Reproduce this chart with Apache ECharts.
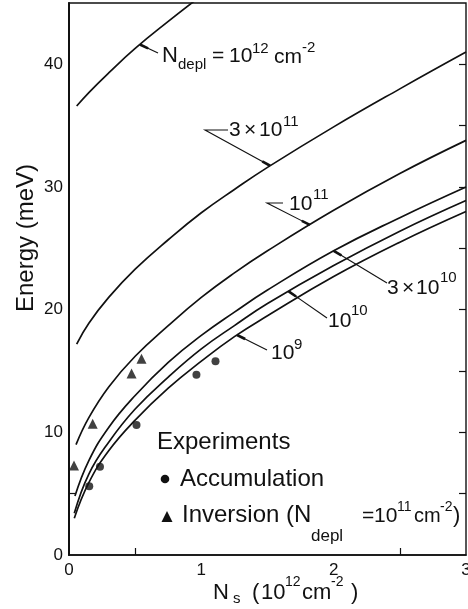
<!DOCTYPE html>
<html>
<head>
<meta charset="utf-8">
<script src="https://cdn.jsdelivr.net/npm/echarts@6/dist/echarts.min.js"></script>
<style>
  html, body { margin: 0; padding: 0; background: #fff; }
  #chart { width: 468px; height: 609px; }
</style>
</head>
<body>
<div id="chart"></div>
<script>
// Lowest subband energy (meV) versus sheet density N_s (10^12 cm^-2),
// one curve per depletion charge N_depl.
const curve1e12 = [[0.058, 36.6], [0.15, 37.7], [0.3, 39.3], [0.5, 41.3], [0.75, 43.5], [1.0, 45.6]];
const curve3e11 = [[0.058, 17.2], [0.15, 18.9], [0.3, 21.0], [0.5, 23.3], [0.75, 25.7], [1.0, 27.9], [1.25, 29.8], [1.5, 31.6], [2.0, 34.9], [2.5, 38.0], [3.0, 41.0]];
const curve1e11 = [[0.053, 9.0], [0.15, 11.2], [0.3, 13.7], [0.5, 16.2], [0.75, 18.7], [1.0, 21.0], [1.25, 23.0], [1.5, 24.8], [2.0, 28.1], [2.5, 31.1], [3.0, 33.8]];
const curve3e10 = [[0.045, 4.8], [0.15, 7.7], [0.3, 10.4], [0.5, 13.0], [0.75, 15.7], [1.0, 17.9], [1.25, 19.8], [1.5, 21.6], [2.0, 24.8], [2.5, 27.5], [3.0, 30.0]];
const curve1e10 = [[0.04, 3.4], [0.15, 6.6], [0.3, 9.2], [0.5, 11.9], [0.75, 14.5], [1.0, 16.8], [1.25, 18.7], [1.5, 20.5], [2.0, 23.6], [2.5, 26.4], [3.0, 28.9]];
const curve1e9  = [[0.04, 3.0], [0.15, 5.9], [0.3, 8.5], [0.5, 11.0], [0.75, 13.6], [1.0, 15.8], [1.25, 17.8], [1.5, 19.5], [2.0, 22.7], [2.5, 25.5], [3.0, 28.0]];

// Measured points
const accumulation = [[0.153, 5.6], [0.234, 7.2], [0.51, 10.6], [0.963, 14.7], [1.107, 15.8]];
const inversion = [[0.038, 7.3], [0.179, 10.7], [0.473, 14.8], [0.548, 16.0]];

// Axis ticks and labels
const xLabelValues = [0, 1, 2, 3];
const xTickValues = [0.5, 2.5];
const yLabelValues = [0, 10, 20, 30, 40];
const yRightTickValues = [5, 10, 15, 20, 25, 30, 35, 40];

const FONT = '"Liberation Sans", Arial, sans-serif';
const INK = '#111';

const chart = echarts.init(document.getElementById('chart'), null, { renderer: 'canvas', width: 468, height: 609 });

const curves = [curve1e12, curve3e11, curve1e11, curve3e10, curve1e10, curve1e9];

const series = curves.map(function (d) {
  return {
    type: 'line', data: d, smooth: 0.45, showSymbol: false, clip: true,
    lineStyle: { color: INK, width: 1.7 }, silent: true
  };
});
series.push({ type: 'scatter', data: accumulation, symbol: 'circle', symbolSize: 8, itemStyle: { color: INK } });
series.push({ type: 'scatter', data: inversion, symbol: 'triangle', symbolSize: 10, itemStyle: { color: INK } });

chart.setOption({
  animation: false,
  backgroundColor: '#fff',
  grid: {
    left: 69, right: 2, top: 3, bottom: 54, outerBoundsMode: 'none', containLabel: false,
    show: true, borderColor: INK, borderWidth: 1.4, backgroundColor: 'transparent'
  },
  xAxis: {
    type: 'value', min: 0, max: 3,
    axisLine: { show: true, lineStyle: { color: INK, width: 1.6 } },
    axisTick: { show: true, inside: true, length: 7, customValues: xTickValues, lineStyle: { color: INK, width: 1.2 } },
    axisLabel: { customValues: xLabelValues, color: INK, fontFamily: FONT, fontSize: 17, margin: 7, showMaxLabel: true },
    splitLine: { show: false }
  },
  yAxis: [{
    type: 'value', min: 0, max: 45, position: 'left',
    axisLine: { show: true, lineStyle: { color: INK, width: 2 } },
    axisTick: { show: true, inside: true, length: 6, customValues: [5], lineStyle: { color: INK, width: 1.2 } },
    axisLabel: { customValues: yLabelValues, color: INK, fontFamily: FONT, fontSize: 17, margin: 6 },
    splitLine: { show: false }
  }, {
    type: 'value', min: 0, max: 45, position: 'right',
    axisLine: { show: false },
    axisTick: { show: true, inside: true, length: 7, customValues: yRightTickValues, lineStyle: { color: INK, width: 1.2 } },
    axisLabel: { show: false },
    splitLine: { show: false }
  }],
  series: series
});

// ---- annotations ----
function valueAt(curve, n) {
  for (let i = 1; i < curve.length; i++) {
    if (n <= curve[i][0]) {
      const a = curve[i - 1], b = curve[i];
      return a[1] + (b[1] - a[1]) * (n - a[0]) / (b[0] - a[0]);
    }
  }
  return curve[curve.length - 1][1];
}

const elements = [];

// place a text run by its left edge and baseline
function text(str, x, baseline, size) {
  elements.push({
    type: 'text', silent: true,
    style: {
      text: str, x: x, y: baseline - 0.32 * size,
      font: size + 'px ' + FONT, fill: INK,
      align: 'left', verticalAlign: 'middle', textAlign: 'left', textVerticalAlign: 'middle'
    }
  });
}

// pointer lines from a curve to its label
const pointers = [
  { curve: curve1e12, n: 0.536, via: [[158, 53]] },
  { curve: curve3e11, n: 1.52, via: [[205, 130], [228, 130]] },
  { curve: curve1e11, n: 1.82, via: [[267, 203], [283, 203]] },
  { curve: curve3e10, n: 2.0, via: [[387, 283]] },
  { curve: curve1e10, n: 1.66, via: [[327, 318]] },
  { curve: curve1e9, n: 1.27, via: [[267, 350]] }
];
pointers.forEach(function (p) {
  const a = chart.convertToPixel({ gridIndex: 0 }, [p.n, valueAt(p.curve, p.n)]);
  const pts = [a].concat(p.via);
  elements.push({ type: 'polyline', shape: { points: pts }, style: { stroke: INK, lineWidth: 1.1, fill: null }, silent: true });
  const dx = p.via[0][0] - a[0], dy = p.via[0][1] - a[1];
  const len = Math.sqrt(dx * dx + dy * dy);
  const k = 9 / len;
  elements.push({ type: 'line', shape: { x1: a[0], y1: a[1], x2: a[0] + dx * k, y2: a[1] + dy * k }, style: { stroke: INK, lineWidth: 2.6 }, silent: true });
});

// curve labels
text('N', 162, 63, 22);
text('depl', 178, 70, 15);
text('=', 212, 63, 21);
text('10', 229, 63, 21);
text('12', 252, 54, 15);
text('cm', 274, 64, 21);
text('-2', 302, 53, 15);

text('3', 229, 137, 21);
text('\u00d7', 244, 137, 21);
text('10', 259, 137, 21);
text('11', 283, 127, 15);

text('10', 289, 211, 21);
text('11', 313, 200, 15);

text('3', 387, 295, 21);
text('\u00d7', 402, 295, 21);
text('10', 416, 295, 21);
text('10', 440, 283, 15);

text('10', 328, 328, 21);
text('10', 351, 316, 15);

text('10', 271, 360, 21);
text('9', 294, 350, 15);

// legend
text('Experiments', 157, 450, 24);
elements.push({ type: 'circle', shape: { cx: 165, cy: 479, r: 4.3 }, style: { fill: INK }, silent: true });
text('Accumulation', 180, 487, 24);
elements.push({ type: 'polygon', shape: { points: [[167, 511], [161.5, 522], [172.5, 522]] }, style: { fill: INK }, silent: true });
text('Inversion (N', 182, 523, 24);
text('depl', 311, 542, 17);
text('=', 362, 523, 21);
text('10', 374, 523, 21);
text('11', 397, 512, 14);
text('cm', 414, 523, 20);
text('-2', 440, 512, 14);
text(')', 453, 523, 22);

// axis titles
text('N', 213, 600, 22);
text('s', 233, 604, 15);
text('(', 252, 600, 22);
text('10', 261, 600, 22);
text('12', 285, 587, 14);
text('cm', 302, 600, 22);
text('-2', 331, 587, 14);
text(')', 351, 600, 22);

elements.push({
  type: 'text', x: 26, y: 238, rotation: Math.PI / 2, silent: true,
  style: { text: 'Energy (meV)', x: 0, y: 0, font: '24px ' + FONT, fill: INK, align: 'center', verticalAlign: 'middle', textAlign: 'center', textVerticalAlign: 'middle' }
});

chart.setOption({ graphic: { elements: elements } });
</script>
</body>
</html>
